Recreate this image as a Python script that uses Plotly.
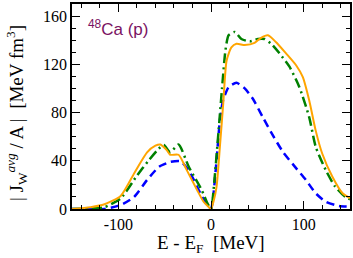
import plotly.graph_objects as go

# Data
e_orange = [-150, -130, -115, -97.5, -83, -69, -60, -54.7, -48, -44, -35, -26, -15, -8, -3, 0,
            3, 6, 9.6, 13.2, 16.8, 22, 27.5, 36.4, 47, 54, 61.5, 70, 81, 92, 99, 106, 113, 120, 131, 142, 150]
j_orange = [0, 1.5, 3.9, 10.8, 29.5, 47, 52.5, 53.5, 49, 45, 45, 32, 15.7, 6, 2, 0,
            7, 18.5, 51.6, 87.5, 123, 134, 137, 136, 137.7, 142, 144, 138.5, 129, 119, 109.5, 90, 65, 46, 26.7, 13, 9]

e_green = [-150, -130, -115, -97.5, -79.6, -67, -56.4, -51, -44, -35, -24, -10, -4, 0,
           4, 8, 12, 15.6, 19, 25.7, 32.8, 41.8, 50.7, 57.8, 65, 74, 84.7, 95.4, 106, 113, 124, 134, 145, 150]
j_green = [0, 0.5, 1.5, 8.8, 28, 40.5, 50, 53, 47, 53.5, 35, 15.7, 5, 0,
           26.7, 63, 101, 131.6, 144, 146.8, 141, 139, 141, 141, 137, 129, 118, 101, 76, 51.6, 32, 18.5, 10, 8]

e_blue = [-150, -130, -115, -97.5, -83, -69, -56, -44, -33, -24, -11.5, -5, 0,
          2, 6, 9.6, 13, 19, 27.5, 36.4, 45, 56, 66.8, 77.5, 92, 102.5, 113, 124, 138, 150]
j_blue = [0, 0, 0, 3.3, 10, 24, 35, 39, 39.7, 32, 13, 4, 0,
          7.5, 40.5, 73.7, 90, 101, 104.6, 100, 91.6, 76, 61, 47.5, 33.7, 24, 13, 6, 2.5, 2]

x_ticks = [-100, 0, 100]
y_ticks = [0, 40, 80, 120, 160]

fig = go.Figure()
fig.add_trace(go.Scatter(x=e_blue, y=j_blue, mode="lines",
                         line=dict(color="#0000ff", width=2.5, dash="8px,5px", shape="spline", smoothing=0.6)))
fig.add_trace(go.Scatter(x=e_green, y=j_green, mode="lines",
                         line=dict(color="#008000", width=2.5, dash="10px,4px,2px,4px", shape="spline", smoothing=0.6)))
fig.add_trace(go.Scatter(x=e_orange, y=j_orange, mode="lines",
                         line=dict(color="#ffa500", width=2, shape="spline", smoothing=0.6)))

tickfont = dict(family="Liberation Serif", size=16, color="black")
fig.update_xaxes(range=[-150, 150], tickvals=x_ticks, ticktext=[str(v) for v in x_ticks],
                 ticks="inside", ticklen=8, tickwidth=1.3, tickcolor="black",
                 minor=dict(dtick=20, tick0=0, ticks="inside", ticklen=4, tickcolor="black", tickwidth=1.3),
                 showline=True, linecolor="black", linewidth=1.5, mirror="allticks",
                 showgrid=False, zeroline=False, tickfont=tickfont, automargin=False)
fig.update_yaxes(range=[0, 170], tickvals=y_ticks, ticktext=[str(v) for v in y_ticks],
                 ticks="inside", ticklen=8, tickwidth=1.3, tickcolor="black",
                 minor=dict(dtick=10, tick0=0, ticks="inside", ticklen=4, tickcolor="black", tickwidth=1.3),
                 showline=True, linecolor="black", linewidth=1.5, mirror="allticks",
                 showgrid=False, zeroline=False, tickfont=tickfont, automargin=False)

titlefont = dict(family="Liberation Serif", size=19, color="black")
fig.add_annotation(x=0.5, y=-0.1, xref="paper", yref="paper", xanchor="center", yanchor="top",
                   text="E - E<sub>F</sub>  [MeV]", showarrow=False, font=titlefont)
fig.add_annotation(x=-0.2, y=0.47, xref="paper", yref="paper", xanchor="center", yanchor="middle",
                   textangle=-90, text="| J<sub>W</sub><sup><i>avg</i></sup> / A |  [MeV fm<sup>3</sup>]",
                   showarrow=False, font=titlefont)

fig.add_annotation(x=0.05, y=0.945, xref="paper", yref="paper", xanchor="left", yanchor="top",
                   text="<sup>48</sup>Ca (p)", showarrow=False,
                   font=dict(family="Liberation Sans", size=17, color="#7a1262"))

fig.update_layout(width=353, height=258, margin=dict(l=72, r=3, t=4, b=49),
                  paper_bgcolor="white", plot_bgcolor="white", showlegend=False)

fig.write_html("out.html", config={"displayModeBar": False},
               post_script="document.body.style.margin='0';document.body.style.overflow='hidden';")
